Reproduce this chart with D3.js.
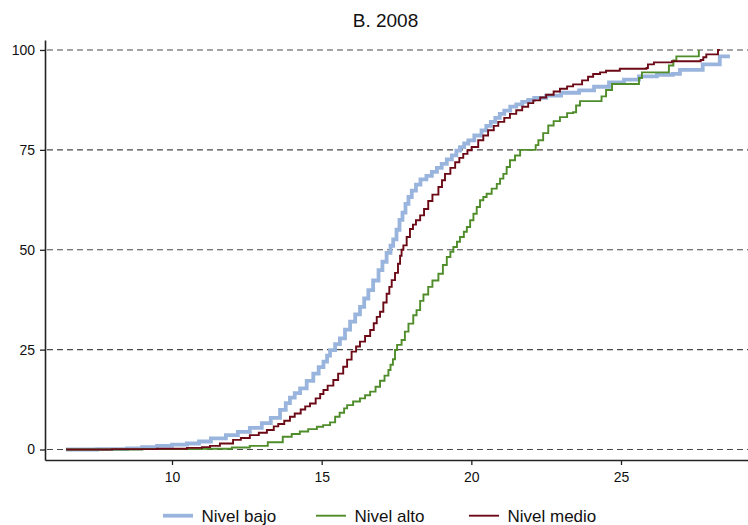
<!DOCTYPE html>
<html>
<head>
<meta charset="utf-8">
<script src="https://cdn.jsdelivr.net/npm/d3@7"></script>
<style>
  html, body { margin: 0; padding: 0; background: #fff; }
  svg { display: block; font-family: "Liberation Sans", Arial, sans-serif; }
</style>
</head>
<body>
<svg id="chart" width="748" height="525"></svg>
<script>
// Cumulative distribution (%) by level, 2008 — step knots [x, cumulative %]
const nivelBajo = [
  [6.46, 0], [7.5, 0.1], [8.5, 0.3], [9.0, 0.6], [9.5, 0.9], [10.0, 1.2], [10.5, 1.5],
  [10.9, 2.0], [11.3, 2.8], [11.8, 3.6], [12.2, 4.4], [12.6, 5.4], [13.0, 6.6],
  [13.3, 7.9], [13.61, 9.9], [13.8, 11.6], [13.94, 13.0], [14.1, 14.1], [14.28, 15.3],
  [14.5, 17.2], [14.72, 19.0], [14.9, 20.6], [15.06, 22.0], [15.18, 23.5], [15.28, 24.9],
  [15.45, 26.4], [15.61, 27.8], [15.78, 30], [15.95, 32], [16.12, 33.8], [16.28, 35.7],
  [16.42, 37.8], [16.56, 39.9], [16.72, 42.3], [16.9, 44.9], [17.03, 47], [17.17, 49.2],
  [17.3, 51], [17.39, 52.6], [17.5, 55], [17.6, 57.5], [17.7, 59.3], [17.8, 61.5],
  [17.9, 63.2], [18.01, 64.8], [18.15, 66.3], [18.3, 67.6], [18.5, 68.5], [18.68, 69.5],
  [18.85, 70.5], [19.01, 71.5], [19.18, 72.6], [19.35, 73.6], [19.5, 74.8], [19.62, 75.7],
  [19.76, 76.6], [19.9, 77.4], [20.1, 78.6], [20.34, 79.9], [20.5, 81], [20.65, 82],
  [20.8, 83], [20.95, 84], [21.1, 84.8], [21.3, 85.8], [21.5, 86.4], [21.7, 87],
  [21.9, 87.5], [22.1, 88], [22.5, 88.6], [23.0, 89.3], [23.6, 89.9], [24.1, 90.8],
  [24.6, 91.9], [25.1, 92.6], [25.6, 93.4], [26.2, 93.8], [26.73, 94], [26.97, 95],
  [27.73, 96.4], [28.3, 98.4], [28.64, 98.4]
];
const nivelAlto = [
  [6.46, 0], [9.0, 0.1], [11.0, 0.2], [12.0, 0.5], [12.6, 0.9], [13.2, 1.8], [13.7, 3.2],
  [14.0, 3.9], [14.27, 4.5], [14.55, 5.1], [14.84, 5.7], [15.05, 6.1], [15.28, 6.8],
  [15.45, 8.2], [15.6, 9.2], [15.75, 10.3], [15.85, 11.1], [16.05, 12.0], [16.28, 12.8],
  [16.45, 13.6], [16.62, 14.5], [16.8, 15.7], [16.95, 17.2], [17.1, 18.5], [17.23, 19.9],
  [17.3, 21.2], [17.38, 22.6], [17.45, 24.9], [17.52, 26.2], [17.67, 27.4], [17.78, 29.5],
  [17.9, 31.5], [18.06, 33.6], [18.17, 34.9], [18.29, 37.2], [18.4, 38.8], [18.56, 40.7],
  [18.7, 42.3], [18.9, 44], [19.05, 46.2], [19.18, 48.2], [19.3, 49.5], [19.4, 50.7],
  [19.52, 52], [19.62, 53.2], [19.75, 54.5], [19.85, 55.7], [19.96, 57.4], [20.07, 59],
  [20.18, 60.7], [20.29, 62.4], [20.4, 63.2], [20.51, 64], [20.68, 65.3], [20.85, 66.5],
  [20.96, 67.8], [21.07, 69], [21.18, 70.7], [21.29, 72.4], [21.46, 73.6], [21.63, 75],
  [22.07, 75], [22.15, 76.2], [22.24, 77.4], [22.4, 79.2], [22.57, 81.1], [22.75, 82.2],
  [22.96, 83.2], [23.2, 84.2], [23.4, 84.4], [23.5, 86.1], [23.63, 87.2], [24.3, 87.2],
  [24.35, 88.4], [24.5, 90], [24.7, 91.5], [25.5, 91.5], [25.6, 93], [25.7, 94.4],
  [26.5, 94.4], [26.6, 96.1], [26.75, 97.4], [26.85, 98.4], [27.6, 100]
];
const nivelMedio = [
  [6.46, 0], [8.0, 0.1], [9.5, 0.2], [10.5, 0.4], [11.0, 0.6], [11.27, 0.9], [11.6, 1.5],
  [12.04, 2.4], [12.3, 2.9], [12.6, 3.6], [12.9, 4.2], [13.17, 4.9], [13.4, 5.8],
  [13.55, 6.4], [13.75, 7.2], [13.94, 8.2], [14.1, 9.0], [14.3, 10], [14.45, 10.8],
  [14.61, 11.5], [14.8, 12.8], [14.95, 13.9], [15.06, 14.9], [15.2, 16.0], [15.39, 17.4],
  [15.55, 19.0], [15.72, 20.7], [15.85, 22.5], [16.0, 24.5], [16.15, 25.8], [16.28, 27],
  [16.45, 28.4], [16.62, 29.9], [16.74, 31.6], [16.84, 33.2], [16.95, 34.5], [17.06, 36.8],
  [17.17, 39], [17.26, 40.7], [17.34, 42.4], [17.45, 44.2], [17.55, 46.5], [17.62, 48.5],
  [17.67, 50], [17.73, 51.1], [17.84, 53.2], [17.95, 55.2], [18.05, 56.3], [18.15, 57.4],
  [18.29, 58.6], [18.42, 60.2], [18.56, 62.2], [18.7, 63.8], [18.9, 65.7], [19.02, 67.4],
  [19.12, 69], [19.3, 70.5], [19.46, 71.9], [19.6, 73], [19.73, 74], [19.87, 74.9],
  [20.01, 75.7], [20.23, 77.4], [20.4, 78.6], [20.56, 79.9], [20.75, 81], [20.9, 82],
  [21.1, 83], [21.29, 84], [21.5, 84.9], [21.7, 85.8], [21.9, 86.7], [22.07, 87.4],
  [22.3, 88.1], [22.5, 88.8], [22.75, 89.6], [22.96, 90.3], [23.2, 90.9], [23.4, 91.4],
  [23.7, 92.4], [23.9, 93.3], [24.07, 94], [24.3, 94.4], [24.5, 94.8], [24.96, 95.3],
  [25.85, 95.5], [25.9, 96.4], [26.1, 96.9], [26.7, 97.2], [27.66, 97.5], [27.75, 98.2],
  [27.85, 98.9], [28.24, 100], [28.3, 100]
];

const seriesNames = ["Nivel bajo", "Nivel alto", "Nivel medio"];
const seriesData = [nivelBajo, nivelAlto, nivelMedio];
const seriesColors = ["#9ab5dd", "#4f8c2a", "#6b0a16"];
const seriesWidths = [3.8, 1.9, 1.9];

const xTicks = [10, 15, 20, 25];
const yTicks = [0, 25, 50, 75, 100];
const title = "B. 2008";

const svg = d3.select("#chart");

const x = d3.scaleLinear().domain([5.757, 29.243]).range([45, 748]);
const y = d3.scaleLinear().domain([-2.625, 102.5]).range([460, 40]);

// Dashed horizontal gridlines
svg.append("g").selectAll("line")
  .data(yTicks)
  .join("line")
  .attr("x1", 47).attr("x2", 748)
  .attr("y1", d => y(d)).attr("y2", d => y(d))
  .attr("stroke", "#4a4a4a")
  .attr("stroke-width", 1.1)
  .attr("stroke-dasharray", "6,4");

// Step curves
const line = d3.line()
  .x(d => x(d[0]))
  .y(d => y(d[1]))
  .curve(d3.curveStepAfter);

// draw order: bajo (thick, underneath), alto, medio
svg.append("g").selectAll("path")
  .data(seriesData.map((d, i) => ({ d, i })))
  .join("path")
  .attr("d", s => line(s.d))
  .attr("fill", "none")
  .attr("stroke", s => seriesColors[s.i])
  .attr("stroke-width", s => seriesWidths[s.i])
  .attr("stroke-linejoin", "miter");

// Axes
const yAxis = svg.append("g")
  .attr("transform", "translate(45,0)")
  .call(d3.axisLeft(y).tickValues(yTicks).tickSize(5).tickSizeOuter(0).tickPadding(5));
const xAxis = svg.append("g")
  .attr("transform", "translate(0,460)")
  .call(d3.axisBottom(x).tickValues(xTicks).tickSize(5).tickSizeOuter(0).tickPadding(7));

[yAxis, xAxis].forEach(g => {
  g.select(".domain").attr("stroke", "#222").attr("stroke-width", 1.6);
  g.selectAll(".tick line").attr("stroke", "#222").attr("stroke-width", 1.3);
  g.selectAll(".tick text")
    .attr("fill", "#111")
    .style("font-size", "14px")
    .style("font-family", "'Liberation Sans', Arial, sans-serif");
});

// Title
svg.append("text")
  .attr("x", 385.5).attr("y", 26.5)
  .attr("text-anchor", "middle")
  .attr("fill", "#111")
  .style("font-size", "19px")
  .text(title);

// Legend
const legendX = [163, 316, 469];
const legend = svg.append("g");
seriesNames.forEach((name, i) => {
  legend.append("line")
    .attr("x1", legendX[i]).attr("x2", legendX[i] + 30)
    .attr("y1", 515.7).attr("y2", 515.7)
    .attr("stroke", seriesColors[i])
    .attr("stroke-width", seriesWidths[i]);
  legend.append("text")
    .attr("x", legendX[i] + 38.5).attr("y", 521.7)
    .attr("fill", "#111")
    .style("font-size", "17px")
    .text(name);
});
</script>
</body>
</html>
